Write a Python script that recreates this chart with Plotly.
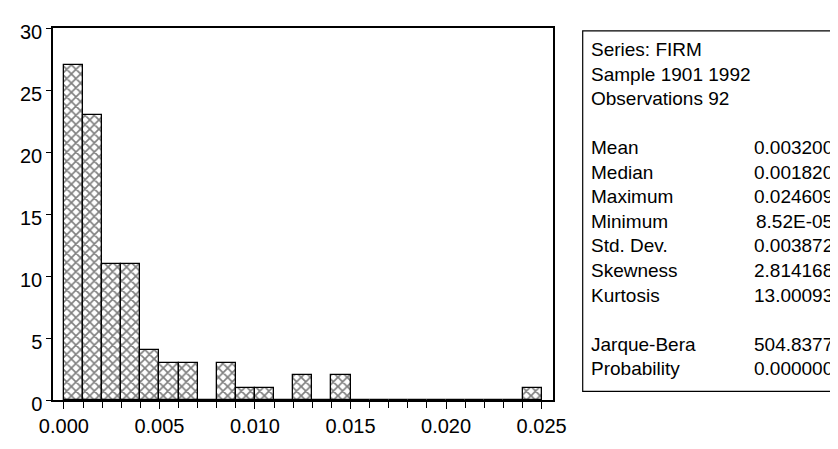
import plotly.graph_objects as go

# Histogram data (bin width 0.001)
bin_left = [0.000, 0.001, 0.002, 0.003, 0.004, 0.005, 0.006, 0.007, 0.008, 0.009,
            0.010, 0.011, 0.012, 0.013, 0.014, 0.015, 0.016, 0.017, 0.018, 0.019,
            0.020, 0.021, 0.022, 0.023, 0.024]
counts = [27, 23, 11, 11, 4, 3, 3, 0, 3, 1,
          1, 0, 2, 0, 2, 0, 0, 0, 0, 0,
          0, 0, 0, 0, 1]
bin_width = 0.001

x_ticks = [0.000, 0.005, 0.010, 0.015, 0.020, 0.025]
x_tick_labels = ["0.000", "0.005", "0.010", "0.015", "0.020", "0.025"]
y_ticks = [0, 5, 10, 15, 20, 25, 30]

header_lines = ["Series: FIRM", "Sample 1901 1992", "Observations 92"]
stat_names = ["Mean", "Median", "Maximum", "Minimum", "Std. Dev.", "Skewness", "Kurtosis"]
stat_values = ["0.003200", "0.001820", "0.024609", "8.52E-05", "0.003872", "2.814168", "13.00093"]
test_names = ["Jarque-Bera", "Probability"]
test_values = ["504.8377", "0.000000"]

OFF = 8  # browser body margin
W, H = 838 - OFF, 449 - OFF
L, R, T, B = 48 - OFF, 553 - OFF, 28 - OFF, 416 - OFF  # plot area pixels within figure

FONT = "Liberation Sans, Arial, sans-serif"

centers = [b + bin_width / 2 for b in bin_left]
fig = go.Figure()
fig.add_trace(go.Bar(
    x=centers, y=counts, width=[bin_width] * len(counts),
    marker=dict(color="white",
                line=dict(color="black", width=1.3),
                pattern=dict(shape="x", fgcolor="black", bgcolor="white",
                             size=6.5, solidity=0.45)),
    hoverinfo="x+y", showlegend=False,
))

def px_to_paper_x(px):
    return (px - OFF - L) / (R - L)

def px_to_paper_y(py):
    return (B - (py - OFF)) / (B - T)

# stats box
fig.add_shape(type="rect", xref="paper", yref="paper",
              x0=px_to_paper_x(583), x1=px_to_paper_x(850),
              y0=px_to_paper_y(407), y1=px_to_paper_y(31),
              line=dict(color="black", width=1.2), fillcolor="white", layer="above")

line_h = 25.6
y0 = 50.5
rows = []
for i, t in enumerate(header_lines):
    rows.append((y0 + i * line_h, t, None))
for i, (n, v) in enumerate(zip(stat_names, stat_values)):
    rows.append((y0 + (4 + i) * line_h, n, v))
for i, (n, v) in enumerate(zip(test_names, test_values)):
    rows.append((y0 + (12 + i) * line_h, n, v))

for yy, name, val in rows:
    fig.add_annotation(xref="paper", yref="paper", x=px_to_paper_x(589), y=px_to_paper_y(yy),
                       text=name, showarrow=False, xanchor="left", yanchor="middle",
                       font=dict(family=FONT, size=19, color="black"))
    if val is not None:
        fig.add_annotation(xref="paper", yref="paper", x=px_to_paper_x(838), y=px_to_paper_y(yy),
                           text=val, showarrow=False, xanchor="right", yanchor="middle",
                           font=dict(family=FONT, size=19, color="black"))

px_per_unit = 19300.0
x_lo = -(59 - 48) / px_per_unit
x_hi = (553 - 59) / px_per_unit

fig.update_layout(
    width=W, height=H,
    margin=dict(l=L, r=W - R, t=T, b=H - B),
    paper_bgcolor="white", plot_bgcolor="white",
    bargap=0,
    font=dict(family=FONT, size=20, color="black"),
    xaxis=dict(range=[x_lo, x_hi], tickvals=x_ticks, ticktext=x_tick_labels,
               ticks="outside", ticklen=7, tickwidth=1.2, tickcolor="black",
               minor=dict(dtick=0.001, tick0=0, ticks="outside", ticklen=6,
                          tickwidth=1.2, tickcolor="black"),
               showline=True, linecolor="black", linewidth=1.5, mirror=True,
               showgrid=False, zeroline=False, fixedrange=True,
               tickfont=dict(family=FONT, size=20)),
    yaxis=dict(range=[0, 30], tickvals=y_ticks,
               ticks="outside", ticklen=5, tickwidth=1.2, tickcolor="black",
               ticklabelshift=4,
               showline=True, linecolor="black", linewidth=1.5, mirror=True,
               showgrid=False, zeroline=False, fixedrange=True,
               tickfont=dict(family=FONT, size=20)),
)

fig.write_html("out.html")
